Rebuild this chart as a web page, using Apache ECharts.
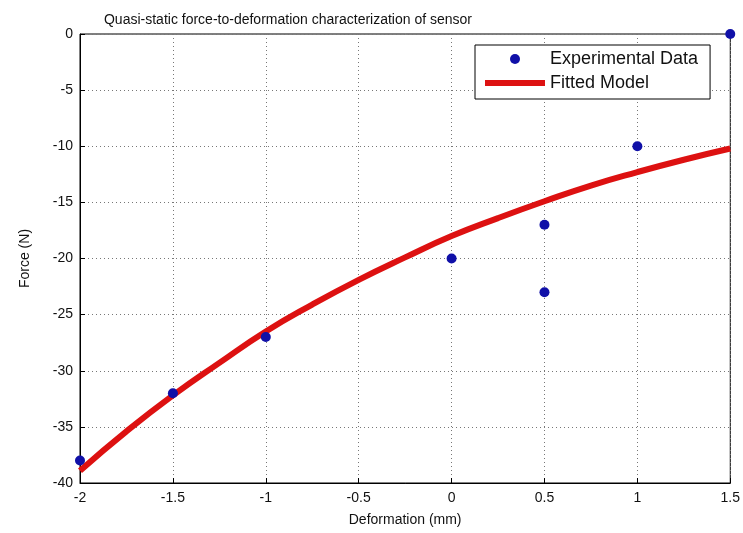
<!DOCTYPE html>
<html>
<head>
<meta charset="utf-8">
<script src="https://cdn.jsdelivr.net/npm/echarts@6/dist/echarts.min.js"></script>
<style>
  html, body { margin: 0; padding: 0; background: #fff; }
  #chart { width: 743px; height: 533px; }
</style>
</head>
<body>
<div id="chart"></div>
<script>
// Measured force at each deformation step
const expDeformation = [-2, -1.5, -1, 0, 0.5, 0.5, 1, 1.5];
const expForce = [-38, -32, -27, -20, -17, -23, -10, 0];

// Fitted model curve sampled along the deformation range
const fitDeformation = [-2, -1.75, -1.5, -1.25, -1, -0.75, -0.5, -0.25, 0, 0.25, 0.5, 0.75, 1, 1.25, 1.5];
const fitForce = [-38.9, -35.4, -32.2, -29.3, -26.5, -24.1, -21.9, -19.9, -18.0, -16.4, -14.9, -13.5, -12.3, -11.2, -10.2];

// Axis ticks
const xTicks = [-2, -1.5, -1, -0.5, 0, 0.5, 1, 1.5];
const yTicks = [-40, -35, -30, -25, -20, -15, -10, -5, 0];

const FONT = '"Liberation Sans", Arial, sans-serif';

const chart = echarts.init(document.getElementById('chart'), null, { renderer: 'canvas' });

const pair = (xs, ys) => xs.map((x, i) => [x, ys[i]]);

chart.setOption({
  animation: false,
  backgroundColor: '#fff',
  title: {
    text: 'Quasi-static force-to-deformation characterization of sensor',
    left: 283,
    textAlign: 'center',
    top: 8,
    textStyle: { fontFamily: FONT, fontSize: 14, fontWeight: 'normal', color: '#111' }
  },
  grid: {
    left: 80, right: 11, top: 34, bottom: 50,
    show: true, borderColor: '#000', borderWidth: 1, backgroundColor: '#fff'
  },
  legend: {
    orient: 'vertical',
    left: 475, top: 45,
    itemWidth: 60, itemHeight: 10,
    itemGap: 4,
    padding: [4, 12, 6, 10],
    backgroundColor: '#fff',
    borderColor: '#000',
    borderWidth: 1,
    textStyle: { fontFamily: FONT, fontSize: 18, lineHeight: 20, color: '#111' },
    data: [
      { name: 'Experimental Data', icon: 'circle' },
      { name: 'Fitted Model', icon: 'path://M0,0H60V6H0Z' }
    ]
  },
  xAxis: {
    type: 'value',
    min: xTicks[0], max: xTicks[xTicks.length - 1], interval: 0.5,
    name: 'Deformation (mm)',
    nameLocation: 'middle',
    nameGap: 30,
    nameTextStyle: { fontFamily: FONT, fontSize: 14, color: '#111' },
    axisLine: { onZero: false, lineStyle: { color: '#000', width: 1 } },
    axisTick: { show: true, inside: true, length: 5, lineStyle: { color: '#000' } },
    axisLabel: { fontFamily: FONT, fontSize: 14, color: '#111', margin: 8 },
    splitLine: { show: true, lineStyle: { color: '#777', type: [1, 3], width: 1 } }
  },
  yAxis: {
    type: 'value',
    min: yTicks[0], max: yTicks[yTicks.length - 1], interval: 5,
    name: 'Force (N)',
    nameLocation: 'middle',
    nameGap: 48,
    nameTextStyle: { fontFamily: FONT, fontSize: 14, color: '#111' },
    axisLine: { show: true, onZero: false, lineStyle: { color: '#000', width: 1 } },
    axisTick: { show: true, inside: true, length: 5, lineStyle: { color: '#000' } },
    axisLabel: { fontFamily: FONT, fontSize: 14, color: '#111', margin: 7 },
    splitLine: { show: true, lineStyle: { color: '#777', type: [1, 3], width: 1 } }
  },
  series: [
    {
      name: 'Fitted Model',
      type: 'line',
      data: pair(fitDeformation, fitForce),
      smooth: true,
      showSymbol: false,
      symbol: 'none',
      lineStyle: { color: '#dd1111', width: 6 },
      itemStyle: { color: '#dd1111' },
      z: 2
    },
    {
      name: 'Experimental Data',
      type: 'scatter',
      data: pair(expDeformation, expForce),
      symbol: 'circle',
      symbolSize: 10,
      clip: false,
      itemStyle: { color: '#1010a8', opacity: 1 },
      z: 3
    }
  ]
});
</script>
</body>
</html>
